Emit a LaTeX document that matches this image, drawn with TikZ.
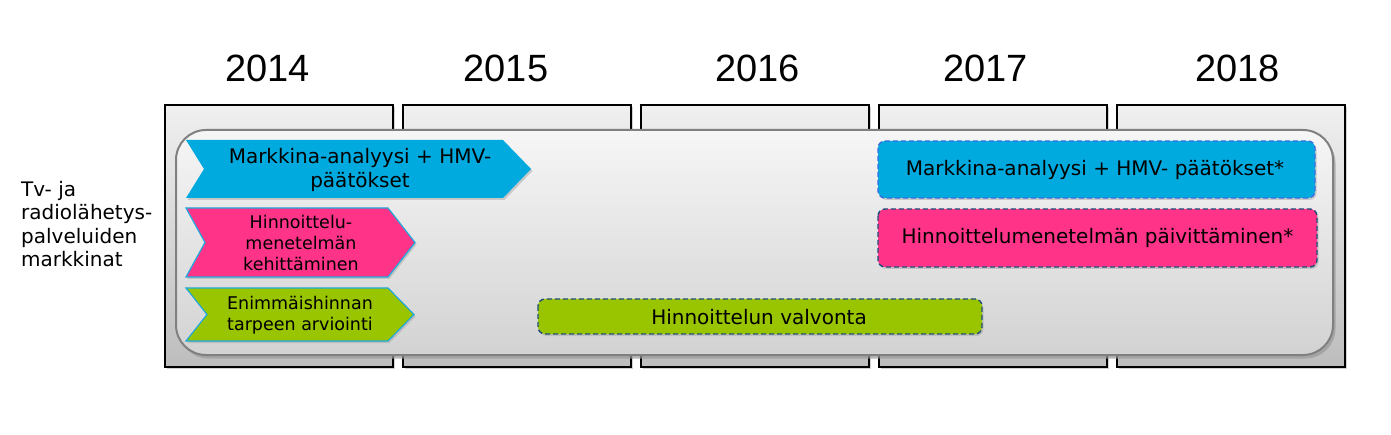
\documentclass[tikz,border=0pt]{standalone}
\usepackage{fontspec}
\setmainfont{DejaVu Sans}
\newfontfamily\yearfont{Liberation Sans}
\usetikzlibrary{shadows}
\definecolor{cblue}{RGB}{0,170,222}
\definecolor{cpink}{RGB}{255,51,136}
\definecolor{cgreen}{RGB}{153,196,0}
\definecolor{cedge}{RGB}{30,170,220}
\definecolor{dashblue}{RGB}{60,110,225}
\definecolor{dashdark}{RGB}{31,78,121}
\definecolor{paneledge}{RGB}{128,128,128}
\tikzset{
  yearcol/.style={draw=black, line width=1.6pt, top color=gray!12, bottom color=gray!52,
    drop shadow={shadow xshift=2pt, shadow yshift=-2pt, fill=gray!60, opacity=0.6}},
  panel/.style={draw=paneledge, line width=2pt, rounded corners=30pt,
    top color=gray!7, bottom color=gray!35,
    drop shadow={shadow xshift=2.5pt, shadow yshift=-3.5pt, fill=gray!80, opacity=0.7}},
  yearlbl/.style={font=\yearfont\fontsize{38}{40}\selectfont, anchor=base, inner sep=0pt},
  txt/.style={font=\fontsize{20}{24}\selectfont, align=center, inner sep=0pt, text=black},
  smalltxt/.style={font=\fontsize{17.5}{21}\selectfont, align=center, inner sep=0pt, text=black},
  dashbox/.style={rounded corners=7pt, line width=1.4pt, dash pattern=on 5pt off 3pt,
    drop shadow={shadow xshift=1.5pt, shadow yshift=-2pt, fill=gray!70, opacity=0.5}},
}
\begin{document}
\begin{tikzpicture}[x=1pt,y=-1pt]
\useasboundingbox (0,0) rectangle (1391,435);
% year columns
\foreach \xx/\nm in {165/c1,403/c2,641/c3,879/c4,1117/c5}{
  \path[yearcol] (\xx,105) rectangle ++(228,262);
}
% year labels
\node[yearlbl] (y14) at (267.5,82) {2014};
\node[yearlbl] (y15) at (506,82) {2015};
\node[yearlbl] (y16) at (757.5,82) {2016};
\node[yearlbl] (y17) at (985.5,82) {2017};
\node[yearlbl] (y18) at (1237.5,82) {2018};
% panel
\path[panel] (176,130) rectangle (1333,355);
% left label
\node[anchor=north west, align=left, inner sep=0pt, font=\fontsize{20}{23.5}\selectfont] (lbl) at (21,181)
  {Tv- ja\\radiolähetys-\\palveluiden\\markkinat};
% chevrons
\fill[cblue, drop shadow={shadow xshift=1.5pt, shadow yshift=-2pt, fill=gray!70, opacity=0.5}]
  (186,140) -- (503,140) -- (531,169) -- (503,198) -- (186,198) -- (204,169) -- cycle;
\node[txt] (m1) at (360,170) {Markkina-analyysi + HMV-\\päätökset};
\filldraw[fill=cpink, draw=cedge, line width=1.2pt, drop shadow={shadow xshift=1.5pt, shadow yshift=-2pt, fill=gray!70, opacity=0.5}]
  (186,208) -- (388,208) -- (415,242.5) -- (388,277) -- (186,277) -- (205,242.5) -- cycle;
\node[smalltxt] (h1) at (301,243) {Hinnoittelu-\\menetelmän\\kehittäminen};
\filldraw[fill=cgreen, draw=cedge, line width=1.2pt, drop shadow={shadow xshift=1.5pt, shadow yshift=-2pt, fill=gray!70, opacity=0.5}]
  (186,288) -- (388,288) -- (414,314.5) -- (388,341) -- (186,341) -- (207,314.5) -- cycle;
\node[smalltxt] (e1) at (300,315) {Enimmäishinnan\\tarpeen arviointi};
% dashed boxes
\filldraw[dashbox, fill=cblue, draw=dashblue] (878,141) rectangle (1315,198);
\node[txt] (m2) at (1095,170) {Markkina-analyysi + HMV- päätökset*};
\filldraw[dashbox, fill=cpink, draw=dashdark] (878,209) rectangle (1317,267);
\node[txt] (h2) at (1097.5,238) {Hinnoittelumenetelmän päivittäminen*};
\filldraw[dashbox, fill=cgreen, draw=dashdark] (538,299) rectangle (982,334);
\node[txt] (v1) at (759,317) {Hinnoittelun valvonta};
\end{tikzpicture}
\end{document}
